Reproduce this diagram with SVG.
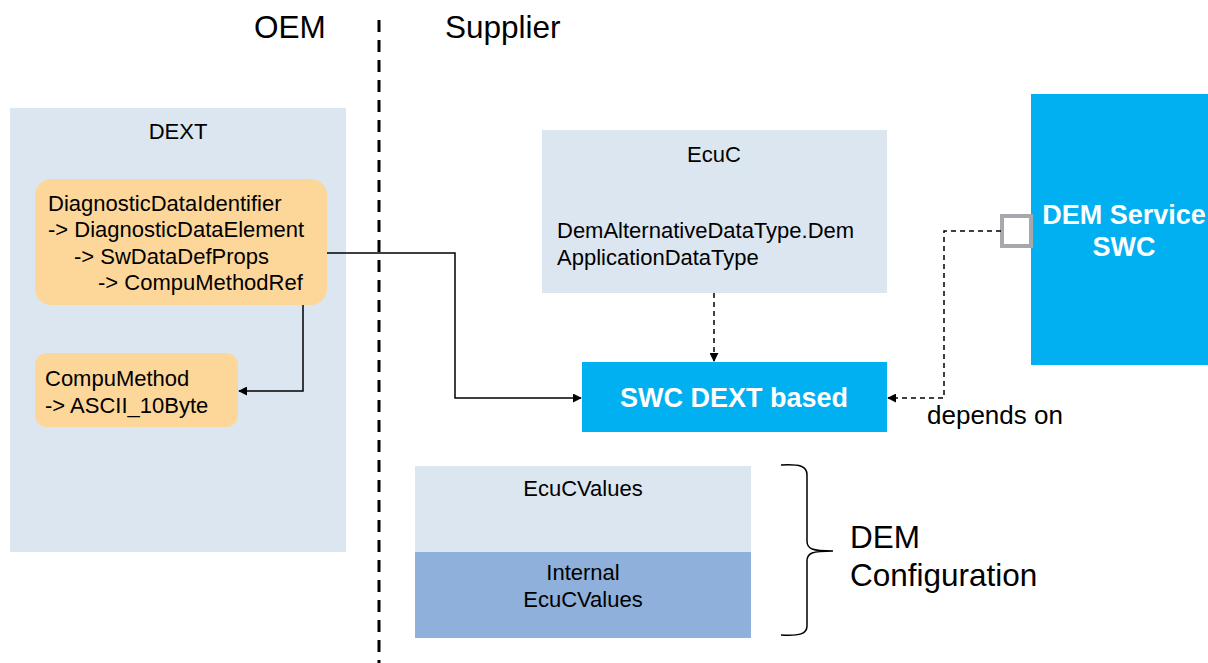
<svg xmlns="http://www.w3.org/2000/svg" width="1208" height="663" viewBox="0 0 1208 663">
<defs>
<style>
text{font-family:"Liberation Sans",Arial,sans-serif;fill:#000}
.light{fill:#DCE6F0}
.orange{fill:#FDD79A}
.cyan{fill:#00B0F0}
.t18{font-size:22px}
.t20{font-size:26px}
.t28{font-size:31.5px}
.wb{fill:#fff;font-weight:bold;font-size:27px}
.ln{fill:none;stroke:#000;stroke-width:1.5}
.dash{fill:none;stroke:#000;stroke-width:1.5;stroke-dasharray:5,4}
</style>
<marker id="ah" viewBox="0 0 10 10" refX="9" refY="5" markerWidth="9" markerHeight="9" markerUnits="userSpaceOnUse" orient="auto">
<path d="M0,0 L10,5 L0,10 z" fill="#000"/>
</marker>
</defs>
<rect width="1208" height="663" fill="#fff"/>
<g id="divider">
<line x1="379" y1="20" x2="379" y2="663" stroke="#000" stroke-width="3" stroke-dasharray="12,8"/>
<text x="290" y="38" class="t28" text-anchor="middle">OEM</text>
<text x="445" y="38" class="t28">Supplier</text>
</g>
<g id="dext">
<rect x="10" y="108" width="336" height="444" class="light"/>
<text x="178" y="139" class="t18" text-anchor="middle">DEXT</text>
</g>
<g id="ddi">
<rect x="35" y="179" width="292" height="126" rx="16" class="orange"/>
<text class="t18"><tspan x="48" y="211">DiagnosticDataIdentifier</tspan><tspan x="48" y="237">-&gt; DiagnosticDataElement</tspan><tspan x="74" y="264">-&gt; SwDataDefProps</tspan><tspan x="98" y="290">-&gt; CompuMethodRef</tspan></text>
</g>
<g id="compu">
<rect x="35" y="353" width="203" height="74" rx="12" class="orange"/>
<text class="t18"><tspan x="45" y="386">CompuMethod</tspan><tspan x="45" y="413">-&gt; ASCII_10Byte</tspan></text>
</g>
<g id="ecuc">
<rect x="542" y="130" width="345" height="163" class="light"/>
<text x="714" y="162" class="t18" text-anchor="middle">EcuC</text>
<text class="t18"><tspan x="557" y="238">DemAlternativeDataType.Dem</tspan><tspan x="557" y="265">ApplicationDataType</tspan></text>
</g>
<g id="swcdext">
<rect x="582" y="362" width="305" height="70" class="cyan"/>
<text x="734" y="407" class="wb" text-anchor="middle">SWC DEXT based</text>
</g>
<g id="demswc">
<rect x="1031" y="94" width="177" height="271" class="cyan"/>
<text class="wb" text-anchor="middle"><tspan x="1124" y="224">DEM Service</tspan><tspan x="1124" y="256">SWC</tspan></text>
<rect x="1002" y="216" width="29" height="30" fill="#fff" stroke="#A5A9AD" stroke-width="4"/>
</g>
<g id="ecucvalues">
<rect x="415" y="466" width="336" height="86" class="light"/>
<text x="583" y="496" class="t18" text-anchor="middle">EcuCValues</text>
</g>
<g id="internal">
<rect x="415" y="552" width="336" height="86" fill="#8EB0DA"/>
<text class="t18" text-anchor="middle"><tspan x="583" y="580">Internal</tspan><tspan x="583" y="607">EcuCValues</tspan></text>
</g>
<g id="demconfig">
<path d="M781,465 C800,464 807,466 807,475 L807,541 C807,549 812,551 833,551 C812,551 807,553 807,561 L807,626 C807,634 800,636 781,635" class="ln"/>
<text class="t28"><tspan x="850" y="548">DEM</tspan><tspan x="850" y="586">Configuration</tspan></text>
</g>
<g id="connectors">
<path d="M303,305 L303,391 L239,391" class="ln" marker-end="url(#ah)"/>
<path d="M327,253 L455,253 L455,398 L581,398" class="ln" marker-end="url(#ah)"/>
<path d="M714,293 L714,361" class="dash" marker-end="url(#ah)"/>
<path d="M1001,231 L944,231 L944,398 L888,398" class="dash" marker-end="url(#ah)"/>
<text x="927" y="424" class="t20">depends on</text>
</g>
</svg>
